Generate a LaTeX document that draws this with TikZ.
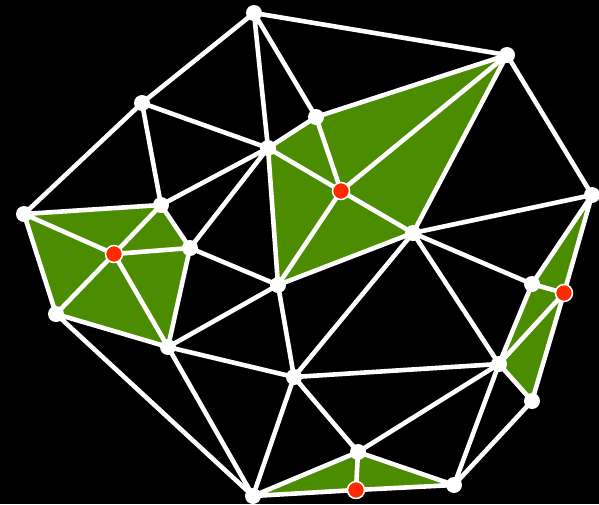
\documentclass[tikz,border=0pt]{standalone}
\definecolor{leaf}{RGB}{76,140,0}
\definecolor{hot}{RGB}{255,42,0}
\tikzset{
  vtx/.style={circle,fill=white,inner sep=0pt,minimum size=16pt},
  rvtx/.style={circle,fill=hot,draw=white,line width=1.5pt,inner sep=0pt,minimum size=17pt},
  edge/.style={white,line width=4.6pt,line cap=round},
  face/.style={fill=leaf}
}
\begin{document}
\begin{tikzpicture}[x=1pt,y=-1pt]
\fill[black] (0,0) rectangle (599,504);
\useasboundingbox (0,0) rectangle (599,504);
% coordinates
\coordinate (A) at (254,13);
\coordinate (B) at (507,55);
\coordinate (C) at (142,103);
\coordinate (D) at (316,117);
\coordinate (E) at (268,148);
\coordinate (F) at (592,195);
\coordinate (G) at (24,214);
\coordinate (H) at (161,205);
\coordinate (I) at (190,248);
\coordinate (J) at (413,233);
\coordinate (K) at (278,285);
\coordinate (L) at (56,314);
\coordinate (M) at (532,284);
\coordinate (N) at (168,347);
\coordinate (O) at (294,377);
\coordinate (P) at (499,364);
\coordinate (Q) at (532,401);
\coordinate (R) at (358,452);
\coordinate (S) at (454,485);
\coordinate (T) at (253,496);
\coordinate (R1) at (341,191);
\coordinate (R2) at (114,254);
\coordinate (R3) at (564,293);
\coordinate (R4) at (356,490);
% green faces
\fill[face] (D) -- (B) -- (J) -- (K) -- (E) -- cycle;
\fill[face] (G) -- (H) -- (I) -- (N) -- (L) -- cycle;
\fill[face] (F) -- (M) -- (P) -- (Q) -- cycle;
\fill[face] (T) -- (R) -- (S) -- cycle;
% edges
\draw[edge] (A)--(B) (A)--(C) (A)--(E) (A)--(D);
\draw[edge] (B)--(D) (B)--(R1) (B)--(J) (B)--(F);
\draw[edge] (C)--(E) (C)--(G) (C)--(H);
\draw[edge] (D)--(E) (D)--(R1);
\draw[edge] (E)--(R1) (E)--(K) (E)--(H) (E)--(I);
\draw[edge] (R1)--(K) (R1)--(J);
\draw[edge] (K)--(J) (K)--(I) (K)--(N) (K)--(O);
\draw[edge] (J)--(F) (J)--(M) (J)--(P) (J)--(O);
\draw[edge] (F)--(R3) (F)--(M) (M)--(R3) (M)--(P) (P)--(R3) (R3)--(Q) (P)--(Q);
\draw[edge] (G)--(H) (G)--(R2) (G)--(L);
\draw[edge] (H)--(R2) (H)--(I);
\draw[edge] (I)--(R2) (I)--(N);
\draw[edge] (L)--(R2) (L)--(N) (L)--(T);
\draw[edge] (N)--(R2) (N)--(O) (N)--(T);
\draw[edge] (O)--(T) (O)--(R) (O)--(P);
\draw[edge] (P)--(R) (P)--(S) (Q)--(S);
\draw[edge] (R)--(T) (R)--(S) (R)--(R4) (T)--(R4) (R4)--(S);
% vertices
\foreach \v in {A,B,C,D,E,F,G,H,I,J,K,L,M,N,O,P,Q,R,S,T}
  \node[vtx] (n\v) at (\v) {};
\foreach \v in {R1,R2,R3,R4}
  \node[rvtx] (n\v) at (\v) {};
\end{tikzpicture}
\end{document}
